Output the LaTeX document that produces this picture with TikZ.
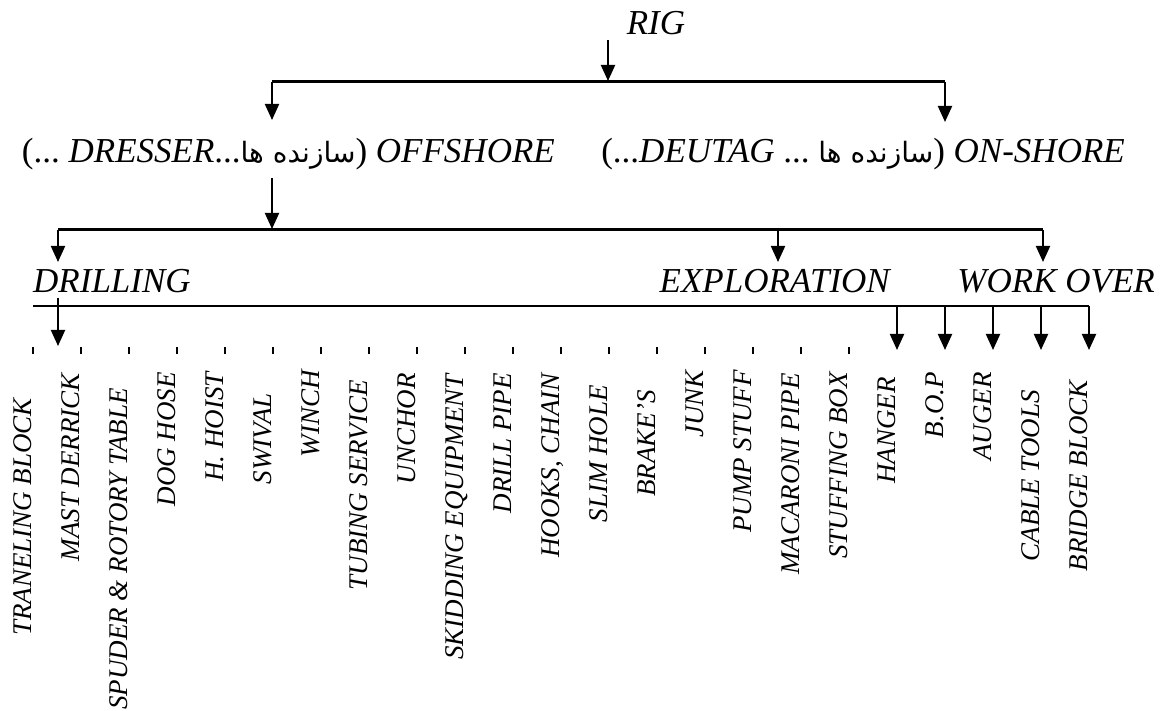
\documentclass[tikz,border=0pt]{standalone}
\usepackage{fontspec}
\setmainfont{Liberation Serif}
\newfontfamily\fa[Script=Arabic]{DejaVu Sans}
\TeXXeTstate=1
\usetikzlibrary{arrows.meta}
\begin{document}
\begin{tikzpicture}[x=1pt,y=-1pt,
  hd/.style={inner sep=0pt,font=\fontsize{35}{40}\selectfont\itshape},
  lbl/.style={inner sep=0pt,rotate=90,anchor=base east,font=\fontsize{27}{30}\selectfont\itshape},
  arr/.style={line width=2pt,-{Triangle[length=16pt,width=14pt]}},
  bar/.style={line width=3pt},
  thinbar/.style={line width=2pt},
  tick/.style={line width=2pt}]
\useasboundingbox (0,0) rectangle (1160,711);
% level 0
\node[hd,anchor=base] (rig) at (656,35) {RIG};
\coordinate (rigout) at (608,40);
\coordinate (b1m) at (608,81);
\coordinate (b1l) at (272,82);
\coordinate (b1r) at (945,82);
\draw[arr] (rigout) -- (b1m);
\draw[bar] (b1l) -- (b1r);
% level 1
\node[hd,anchor=base east] (off) at (555,163) {\upshape(...\ \itshape DRESSER\upshape...{\fontsize{28}{30}\fa\beginR سازنده ها\endR}) \itshape OFFSHORE};
\node[hd,anchor=base east] (on) at (1125,163) {\upshape(...\itshape DEUTAG\upshape\ ...\ {\fontsize{28}{30}\fa\beginR سازنده ها\endR}) \itshape ON-SHORE};
\coordinate (offin) at (272,120);
\coordinate (onin) at (945,122);
\draw[arr] (b1l) -- (offin);
\draw[arr] (b1r) -- (onin);
% level 2
\coordinate (offout) at (272,178);
\coordinate (b2o) at (272,229);
\coordinate (b2l) at (58,230);
\coordinate (b2m) at (778,230);
\coordinate (b2r) at (1043,230);
\draw[arr] (offout) -- (b2o);
\draw[bar] (b2l) -- (b2r);
\node[hd,anchor=base west] (dri) at (33,293) {DRILLING};
\node[hd,anchor=base east] (exp) at (890,293) {EXPLORATION};
\node[hd,anchor=base east] (wo) at (1155,293) {WORK OVER};
\draw[arr] (b2l) -- (58,262);
\draw[arr] (b2m) -- (778,262);
\draw[arr] (b2r) -- (1043,262);
% level 3
\coordinate (b3l) at (33,306);
\coordinate (b3r) at (1089,306);
\draw[thinbar] (b3l) -- (b3r);
\draw[arr] (58,298) -- (58,346);
\foreach \i in {0,...,17}{
  \draw[tick] (33+48*\i,347) -- (33+48*\i,354);
}
\foreach \i in {18,...,22}{
  \draw[arr] (33+48*\i,306) -- (33+48*\i,350);
}
\foreach \t/\y [count=\k from 0] in {
  TRANELING BLOCK/398, MAST DERRICK/373, SPUDER \& ROTORY TABLE/388,
  DOG HOSE/372, H. HOIST/372, SWIVAL/393, WINCH/370, TUBING SERVICE/380,
  UNCHOR/373, SKIDDING EQUIPMENT/374, DRILL PIPE/373, {HOOKS, CHAIN}/373,
  SLIM HOLE/385, BRAKE’S/390, JUNK/370, PUMP STUFF/370, MACARONI PIPE/373,
  STUFFING BOX/372, HANGER/377, B.O.P/372, AUGER/372, CABLE TOOLS/390,
  BRIDGE BLOCK/380}{
  \node[lbl] (l\k) at (31+48*\k,\y) {\t};
}
\end{tikzpicture}
\end{document}
